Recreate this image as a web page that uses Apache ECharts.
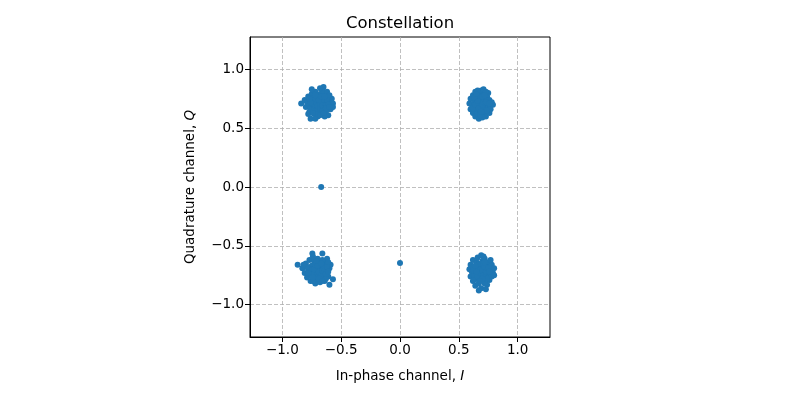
<!DOCTYPE html>
<html>
<head>
<meta charset="utf-8">
<script src="https://cdn.jsdelivr.net/npm/echarts@6/dist/echarts.min.js"></script>
<style>html,body{margin:0;padding:0;background:#fff}#c{width:800px;height:400px}</style>
</head>
<body>
<div id="c"></div>
<script>
const titleText = 'Constellation';
const xLabel = 'In-phase channel, ';
const yLabel = 'Quadrature channel, ';
const tickValues = [-1.0, -0.5, 0.0, 0.5, 1.0];
const axisMin = -1.275, axisMax = 1.275;

const clusterTopLeft = [[-0.84,0.71],[-0.81,0.74],[-0.80,0.68],[-0.78,0.77],[-0.77,0.70],[-0.77,0.64],[-0.76,0.58],[-0.75,0.73],[-0.75,0.79],[-0.74,0.67],[-0.73,0.62],[-0.73,0.71],[-0.72,0.75],[-0.72,0.81],[-0.71,0.68],[-0.71,0.64],[-0.70,0.72],[-0.70,0.77],[-0.70,0.60],[-0.69,0.70],[-0.69,0.66],[-0.68,0.74],[-0.68,0.79],[-0.67,0.69],[-0.67,0.63],[-0.66,0.72],[-0.66,0.76],[-0.65,0.85],[-0.65,0.67],[-0.64,0.71],[-0.64,0.80],[-0.63,0.64],[-0.63,0.74],[-0.62,0.69],[-0.61,0.77],[-0.61,0.61],[-0.60,0.72],[-0.59,0.66],[-0.58,0.75],[-0.57,0.71],[-0.57,0.68],[-0.74,0.70],[-0.71,0.73],[-0.69,0.63],[-0.66,0.82],[-0.62,0.81],[-0.76,0.66],[-0.79,0.72],[-0.72,0.58],[-0.64,0.60],[-0.68,0.84],[-0.60,0.78],[-0.75,0.83],[-0.78,0.62],[-0.73,0.66],[-0.72,0.69],[-0.70,0.66],[-0.70,0.69],[-0.68,0.67],[-0.68,0.71],[-0.66,0.65],[-0.66,0.69],[-0.65,0.74],[-0.63,0.70],[-0.62,0.66],[-0.62,0.74],[-0.74,0.75],[-0.72,0.78],[-0.69,0.74],[-0.67,0.77],[-0.64,0.77],[-0.61,0.70],[-0.71,0.62],[-0.68,0.61],[-0.65,0.63],[-0.76,0.72],[-0.77,0.75],[-0.63,0.67],[-0.60,0.68],[-0.74,0.63]];
const clusterTopRight = [[0.59,0.71],[0.60,0.66],[0.60,0.75],[0.61,0.70],[0.62,0.63],[0.62,0.78],[0.63,0.68],[0.63,0.73],[0.64,0.60],[0.64,0.81],[0.65,0.66],[0.65,0.71],[0.65,0.76],[0.66,0.62],[0.66,0.69],[0.67,0.74],[0.67,0.79],[0.67,0.58],[0.68,0.65],[0.68,0.71],[0.69,0.68],[0.69,0.76],[0.69,0.82],[0.70,0.62],[0.70,0.73],[0.71,0.67],[0.71,0.79],[0.72,0.70],[0.72,0.64],[0.72,0.75],[0.73,0.60],[0.73,0.68],[0.74,0.73],[0.74,0.77],[0.75,0.66],[0.75,0.70],[0.76,0.63],[0.76,0.74],[0.77,0.69],[0.78,0.72],[0.79,0.70],[0.77,0.66],[0.66,0.82],[0.71,0.83],[0.62,0.67],[0.64,0.70],[0.70,0.59],[0.75,0.80],[0.68,0.61],[0.73,0.81],[0.66,0.73],[0.67,0.67],[0.70,0.70],[0.71,0.72],[0.69,0.64],[0.70,0.77],[0.73,0.72],[0.74,0.65],[0.63,0.76],[0.65,0.79],[0.72,0.78],[0.76,0.71]];
const clusterBottomLeft = [[-0.87,-0.66],[-0.83,-0.69],[-0.81,-0.73],[-0.80,-0.65],[-0.79,-0.77],[-0.78,-0.70],[-0.77,-0.62],[-0.77,-0.74],[-0.76,-0.80],[-0.75,-0.67],[-0.745,-0.565],[-0.74,-0.72],[-0.73,-0.76],[-0.73,-0.63],[-0.72,-0.69],[-0.72,-0.82],[-0.71,-0.66],[-0.71,-0.73],[-0.70,-0.78],[-0.70,-0.61],[-0.69,-0.70],[-0.69,-0.75],[-0.68,-0.64],[-0.68,-0.81],[-0.67,-0.68],[-0.67,-0.72],[-0.66,-0.565],[-0.66,-0.77],[-0.65,-0.63],[-0.65,-0.70],[-0.64,-0.74],[-0.64,-0.80],[-0.63,-0.67],[-0.62,-0.72],[-0.62,-0.61],[-0.61,-0.76],[-0.60,-0.69],[-0.59,-0.66],[-0.57,-0.785],[-0.60,-0.83],[-0.74,-0.59],[-0.76,-0.70],[-0.79,-0.68],[-0.71,-0.79],[-0.66,-0.62],[-0.63,-0.78],[-0.70,-0.70],[-0.68,-0.73],[-0.74,-0.80],[-0.61,-0.64],[-0.82,-0.66],[-0.75,-0.74],[-0.73,-0.70],[-0.72,-0.66],[-0.70,-0.67],[-0.69,-0.72],[-0.67,-0.75],[-0.66,-0.71],[-0.65,-0.67],[-0.64,-0.71],[-0.63,-0.74],[-0.62,-0.68],[-0.71,-0.63],[-0.69,-0.78],[-0.66,-0.80],[-0.78,-0.73],[-0.74,-0.77],[-0.67,-0.65],[-0.61,-0.72]];
const clusterBottomRight = [[0.59,-0.70],[0.60,-0.66],[0.60,-0.76],[0.61,-0.72],[0.62,-0.62],[0.62,-0.80],[0.63,-0.68],[0.63,-0.75],[0.64,-0.71],[0.64,-0.84],[0.65,-0.64],[0.65,-0.78],[0.66,-0.69],[0.66,-0.60],[0.67,-0.73],[0.67,-0.82],[0.68,-0.66],[0.68,-0.77],[0.69,-0.70],[0.69,-0.58],[0.69,-0.86],[0.70,-0.74],[0.70,-0.63],[0.71,-0.68],[0.71,-0.80],[0.72,-0.72],[0.72,-0.61],[0.73,-0.76],[0.73,-0.66],[0.74,-0.70],[0.74,-0.83],[0.75,-0.64],[0.75,-0.74],[0.76,-0.68],[0.76,-0.79],[0.77,-0.71],[0.78,-0.66],[0.78,-0.76],[0.79,-0.73],[0.80,-0.69],[0.73,-0.87],[0.67,-0.88],[0.63,-0.79],[0.71,-0.59],[0.66,-0.76],[0.62,-0.71],[0.77,-0.62],[0.80,-0.75],[0.69,-0.65],[0.72,-0.82],[0.66,-0.66],[0.67,-0.70],[0.68,-0.73],[0.70,-0.71],[0.71,-0.75],[0.72,-0.68],[0.73,-0.72],[0.74,-0.78],[0.75,-0.69],[0.70,-0.78],[0.65,-0.72],[0.64,-0.67],[0.68,-0.80],[0.76,-0.72],[0.72,-0.64]];
const outliers = [[-0.67,0.0],[0.0,-0.646]];

const allPoints = [].concat(clusterTopLeft, clusterTopRight, clusterBottomLeft, clusterBottomRight, outliers);
const fmt = v => v.toFixed(1).replace('-', '\u2212');
const font = 'DejaVu Sans';

function makeAxis(nameParts, gap) {
  return {
    type: 'value', min: axisMin, max: axisMax,
    name: '{n|' + nameParts[0] + '}{i|' + nameParts[1] + '}',
    nameLocation: 'middle', nameGap: gap,
    nameTextStyle: { rich: {
      n: { fontFamily: font, fontSize: 13.5, color: '#000' },
      i: { fontFamily: font, fontSize: 13.5, color: '#000', fontStyle: 'italic' }
    }},
    axisLine: { show: true, onZero: false, lineStyle: { color: '#000', width: 1 } },
    axisTick: { show: true, inside: false, length: 5, customValues: tickValues, lineStyle: { color: '#000', width: 1 } },
    axisLabel: { show: true, customValues: tickValues, formatter: fmt, fontFamily: font, fontSize: 13.5, color: '#000', margin: 6 },
    splitLine: { show: true, lineStyle: { color: '#b0b0b0', width: 0.8, type: [4, 2] } }
  };
}

const chart = echarts.init(document.getElementById('c'), null, { renderer: 'canvas' });
chart.setOption({
  animation: false,
  backgroundColor: '#fff',
  title: { text: titleText, left: 'center', top: 10, textStyle: { fontFamily: font, fontSize: 16.5, fontWeight: 'normal', color: '#000' } },
  grid: { left: 250, top: 37, width: 300, height: 300, show: true, borderColor: '#000', borderWidth: 1, backgroundColor: 'transparent' },
  xAxis: Object.assign(makeAxis([xLabel, 'I'], 32), { position: 'bottom' }),
  yAxis: Object.assign(makeAxis([yLabel, 'Q'], 53), { position: 'left' }),
  series: [{
    type: 'scatter', data: allPoints, symbol: 'circle', symbolSize: 6,
    itemStyle: { color: '#1f77b4', opacity: 1 }
  }]
});
</script>
</body>
</html>
